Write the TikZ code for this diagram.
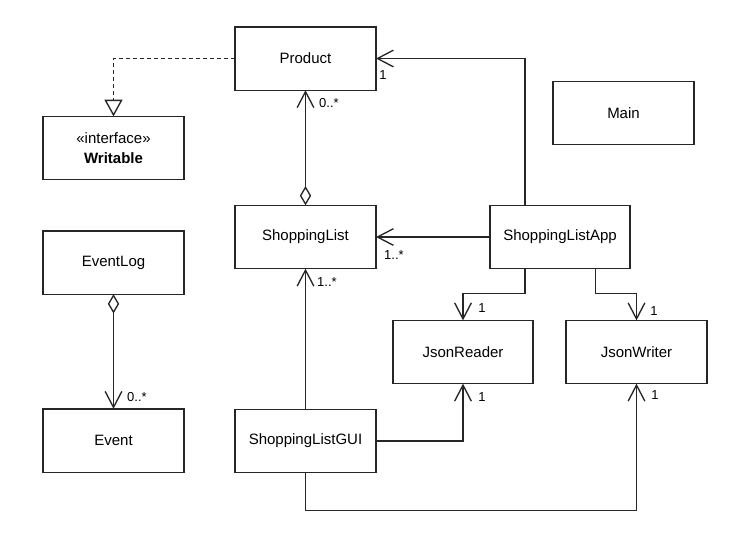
\documentclass[tikz,border=0pt]{standalone}
\usepackage{fontspec}
\setmainfont{Liberation Sans}
\usetikzlibrary{arrows.meta,calc}
\begin{document}
\begin{tikzpicture}[x=0.75pt,y=-0.75pt,
  box/.style={draw=black!85,line width=1pt,minimum width=105.75pt,minimum height=47.5pt,inner sep=0pt,outer sep=0pt,font=\fontsize{11.25}{14}\selectfont,align=center},
  lab/.style={font=\fontsize{9.75}{11}\selectfont,inner sep=0pt},
  conn/.style={draw=black!85,line width=1pt},
  assoc/.style={conn,-{Straight Barb[length=12pt,width=12.5pt,line width=1pt]}},
  aggr/.style={conn,{Diamond[open,length=14.5pt,width=8.5pt,line width=1pt]}-{Straight Barb[length=12pt,width=12.5pt,line width=1pt]}},
  real/.style={conn,dash pattern=on 3pt off 2.25pt,-{Triangle[open,length=12.5pt,width=13.5pt,line width=1pt]}}
]
\fill[white] (0,0) rectangle (746,544);
\useasboundingbox (0,0) rectangle (746,544);

\node[box] (product) at (305.5,58.5) {Product};
\node[box] (writable) at (113.5,148) {«interface»\\[1pt]\textbf{Writable}};
\node[box] (main) at (623.5,113) {Main};
\node[box] (slist) at (305.5,237) {ShoppingList};
\node[box,minimum width=105pt] (app) at (560,237) {ShoppingListApp};
\node[box] (elog) at (113.5,262.5) {EventLog};
\node[box] (event) at (113.5,440.5) {Event};
\node[box,minimum width=105pt] (reader) at (463,352) {JsonReader};
\node[box] (writer) at (636.5,352) {JsonWriter};
\node[box] (gui) at (305.5,441) {ShoppingListGUI};

\coordinate (appN) at ($(app.north west)!0.25!(app.north east)$);
\coordinate (appS1) at ($(app.south west)!0.25!(app.south east)$);
\coordinate (appS2) at ($(app.south west)!0.755!(app.south east)$);

\draw[real] (product.west) -| (writable.north);
\draw[aggr] (slist.north) -- (product.south);
\draw[assoc] (appN) |- (product.east);
\draw[assoc] (app.west) -- (slist.east);
\draw[assoc] (appS1) -- ++(0,25) -| (reader.north);
\draw[assoc] (appS2) -- ++(0,25) -| (writer.north);
\draw[assoc] (gui.north) -- (slist.south);
\draw[assoc] (gui.east) -| (reader.south);
\draw[assoc] (gui.south) -- ++(0,38) -| (writer.south);
\draw[aggr] (elog.south) -- (event.north);

\node[lab] (l1) at (329,103) {0..*};
\node[lab] (l2) at (383,75) {1};
\node[lab] (l3) at (394,255) {1..*};
\node[lab] (l4) at (482,308) {1};
\node[lab] (l5) at (654,311) {1};
\node[lab] (l6) at (327,282) {1..*};
\node[lab] (l7) at (482,397) {1};
\node[lab] (l8) at (655,395) {1};
\node[lab] (l9) at (137,397) {0..*};
\end{tikzpicture}
\end{document}
